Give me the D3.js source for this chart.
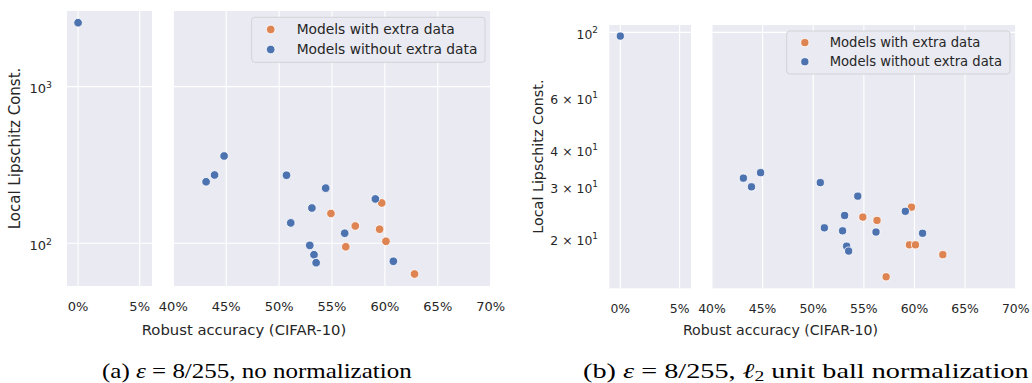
<!DOCTYPE html>
<html>
<head>
<meta charset="utf-8">
<script src="https://cdn.jsdelivr.net/npm/d3@7"></script>
<style>
body { margin: 0; background: #fff; }
text { font-family: "DejaVu Sans", sans-serif; fill: #262626; }
.cap { font-family: "Liberation Serif", serif; fill: #000; }
</style>
</head>
<body>
<svg id="fig" width="1032" height="383"></svg>
<script>
// robust accuracy (%) and local lipschitz constants
var blueAcc = [0, 43.1, 43.9, 44.8, 50.7, 54.4, 59.1, 53.1, 51.1, 56.2, 52.9, 53.3, 53.5, 60.8]
var blueLipA = [2560, 247, 273, 361, 272, 225, 192, 168, 135, 116, 97, 84.6, 75.2, 76.8]
var blueLipB = [97.1, 32.0, 29.9, 33.4, 30.9, 27.8, 24.7, 23.9, 21.7, 21.0, 21.2, 18.8, 18.1, 20.8]
var orangeAcc = [54.9, 57.2, 56.3, 59.7, 59.5, 60.1, 62.8]
var orangeLipA = [155, 129, 95, 181, 123, 103, 63.7]
var orangeLipB = [23.6, 14.8, 23.0, 25.5, 19.0, 19.0, 17.6]

var xTicksSmall = [0, 5]
var xTicksMain = [40, 45, 50, 55, 60, 65, 70]
var yTicksA = [100, 1000]
var yTicksB = [20, 30, 40, 60, 100]
var legendLabels = ["Models with extra data", "Models without extra data"]
var yLabel = "Local Lipschitz Const."
var xLabel = "Robust accuracy (CIFAR-10)"

var colBlue = "#4c72b0", colOrange = "#dd8452", bg = "#eaeaf2"

var svg = d3.select("#fig")

var panels = [{
    blue: blueLipA, orange: orangeLipA,
    smallRange: [67, 152], smallDom: [-0.9, 6.0],
    mainRange: [173.3, 490.7],
    top: 11, bottom: 286, yDom: [53.4, 3040],
    yTicks: yTicksA, yGrid: [100, 1000],
    s: 1, r: 4.3,
    tickEnd: 52, ylabX: 15, xlabX: 244, xtickY: 306, xlabY: 329,
    legend: { x: 251.7, y: 17.3, w: 233.3, h: 45 }
}, {
    blue: blueLipB, orange: orangeLipB,
    smallRange: [609.3, 691], smallDom: [-0.93, 5.96],
    mainRange: [712, 1015.7],
    top: 25, bottom: 288.3, yDom: [13.53, 105.9],
    yTicks: yTicksB, yGrid: [100],
    s: 0.955, r: 4.1,
    tickEnd: 598, ylabX: 538.3, xlabX: 780.5, xtickY: 308, xlabY: 330,
    legend: { x: 786.7, y: 31, w: 223.3, h: 43 }
}]

function yTickText(sel, v) {
    var e = Math.floor(Math.log10(v) + 1e-9)
    var m = Math.round(v / Math.pow(10, e))
    if (m !== 1) sel.append("tspan").text(m + " \u00d7 ")
    sel.append("tspan").text("10")
    sel.append("tspan").attr("dy", "-0.45em").attr("font-size", "0.72em").text(e)
}

function drawPanel(p) {
    var g = svg.append("g")
    var y = d3.scaleLog().domain(p.yDom).range([p.bottom, p.top])
    var xs = d3.scaleLinear().domain(p.smallDom).range(p.smallRange)
    var xm = d3.scaleLinear().domain([40, 70]).range(p.mainRange)
    var fs = 13 * p.s

    var parts = [
        { x: xs, ticks: xTicksSmall, keep: d => d < 10 },
        { x: xm, ticks: xTicksMain, keep: d => d >= 40 }
    ]

    parts.forEach(part => {
        var x = part.x
        var ax = g.append("g")
        ax.append("rect")
            .attr("x", x.range()[0]).attr("y", p.top)
            .attr("width", x.range()[1] - x.range()[0])
            .attr("height", p.bottom - p.top)
            .attr("fill", bg)
        ax.selectAll(".vg").data(part.ticks).enter().append("line")
            .attr("x1", d => x(d)).attr("x2", d => x(d))
            .attr("y1", p.top).attr("y2", p.bottom)
            .attr("stroke", "#fff").attr("stroke-width", 1.1)
        ax.selectAll(".hg").data(p.yGrid).enter().append("line")
            .attr("x1", x.range()[0]).attr("x2", x.range()[1])
            .attr("y1", d => y(d)).attr("y2", d => y(d))
            .attr("stroke", "#fff").attr("stroke-width", 1.1)

        // points, orange first so blue sits on top
        var pts = []
        orangeAcc.forEach((a, i) => pts.push({ a: a, l: p.orange[i], c: colOrange }))
        blueAcc.forEach((a, i) => pts.push({ a: a, l: p.blue[i], c: colBlue }))
        ax.selectAll("circle").data(pts.filter(d => part.keep(d.a))).enter().append("circle")
            .attr("cx", d => x(d.a)).attr("cy", d => y(d.l))
            .attr("r", p.r)
            .attr("fill", d => d.c)
            .attr("stroke", "#fff").attr("stroke-width", 0.8)

        ax.selectAll(".xt").data(part.ticks).enter().append("text")
            .attr("x", d => x(d)).attr("y", p.xtickY)
            .attr("text-anchor", "middle").attr("dominant-baseline", "central")
            .attr("font-size", fs)
            .text(d => d + "%")
    })

    // y ticks
    p.yTicks.forEach(v => {
        var t = g.append("text")
            .attr("x", p.tickEnd).attr("y", y(v) + 1.5)
            .attr("text-anchor", "end").attr("dominant-baseline", "central")
            .attr("font-size", fs)
        yTickText(t, v)
    })

    g.append("text")
        .attr("transform", "translate(" + p.ylabX + "," + (p.top + p.bottom) / 2 + ") rotate(-90)")
        .attr("text-anchor", "middle").attr("dominant-baseline", "central")
        .attr("font-size", 15 * p.s)
        .text(yLabel)
    g.append("text")
        .attr("x", p.xlabX).attr("y", p.xlabY)
        .attr("text-anchor", "middle").attr("dominant-baseline", "central")
        .attr("font-size", 14.8 * p.s)
        .text(xLabel)

    // legend
    var L = p.legend
    var lg = g.append("g")
    lg.append("rect")
        .attr("x", L.x).attr("y", L.y).attr("width", L.w).attr("height", L.h)
        .attr("rx", 3).attr("fill", bg).attr("stroke", "#d2d2d8").attr("stroke-width", 1)
    var rowH = L.h * 0.445
    ;[colOrange, colBlue].forEach((c, i) => {
        var cy = L.y + L.h * 0.27 + i * rowH
        lg.append("circle")
            .attr("cx", L.x + 19 * p.s).attr("cy", cy).attr("r", p.r)
            .attr("fill", c).attr("stroke", "#fff").attr("stroke-width", 0.8)
        lg.append("text")
            .attr("x", L.x + 45 * p.s).attr("y", cy)
            .attr("dominant-baseline", "central")
            .attr("font-size", 13.8 * p.s)
            .text(legendLabels[i])
    })
}

panels.forEach(drawPanel)

// captions, stretched horizontally to the width the latex text takes
function caption(x0, x1, build) {
    var t = svg.append("text").attr("class", "cap").attr("font-size", 21.5)
    build(t)
    var w = t.node().getBBox().width
    t.attr("transform", "translate(" + x0 + ",378) scale(" + ((x1 - x0) / w) + ",1)")
}

caption(102, 412, t => {
    t.append("tspan").text("(a) ")
    t.append("tspan").attr("font-style", "italic").text("\u03b5")
    t.append("tspan").text(" = 8/255, no normalization")
})

caption(583, 1029, t => {
    t.append("tspan").text("(b) ")
    t.append("tspan").attr("font-style", "italic").text("\u03b5")
    t.append("tspan").text(" = 8/255, ")
    t.append("tspan").attr("font-style", "italic").text("\u2113")
    t.append("tspan").attr("dy", 3).attr("font-size", 15).text("2")
    t.append("tspan").attr("dy", -3).text(" unit ball normalization")
})
</script>
</body>
</html>
